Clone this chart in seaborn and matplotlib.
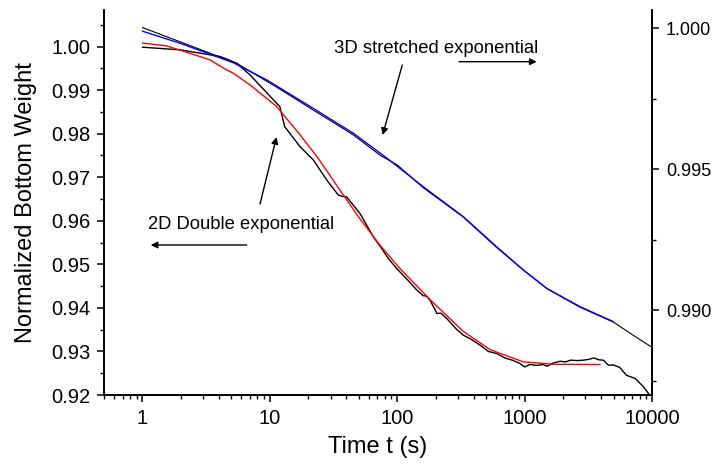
import numpy as np
import pandas as pd
import matplotlib
matplotlib.use("Agg")
import matplotlib.pyplot as plt
import matplotlib.ticker as mticker
import seaborn as sns

# ---------------- data ----------------
# 2D data (left axis), black
t_2d = [1, 2, 4.1, 5.5, 7, 10.7, 12, 13.1, 17.3, 22, 28, 34.5, 37, 40, 51, 65, 74, 85, 99,
        120, 143, 160, 170, 181, 195, 205, 220, 245, 290, 331, 380, 448, 520, 605, 700, 800,
        922, 1000, 1100, 1250, 1400, 1500, 1700, 1900, 2100, 2300, 2600, 2900, 3200, 3500,
        3800, 4160, 4550, 5000, 5600, 6300, 7400, 8600, 9400, 9800]
w_2d = [0.99986, 0.99924, 0.99770, 0.99618, 0.99349, 0.98775, 0.98621, 0.98161, 0.97701,
        0.97395, 0.96936, 0.96591, 0.96560, 0.96552, 0.96170, 0.95632, 0.95402, 0.95140,
        0.94906, 0.94650, 0.94407, 0.94280, 0.94270, 0.94177, 0.94000, 0.93871, 0.93880,
        0.93756, 0.93520, 0.93372, 0.93280, 0.93143, 0.93000, 0.92952, 0.92850, 0.92800,
        0.92722, 0.92644, 0.92700, 0.92680, 0.92700, 0.92660, 0.92740, 0.92775, 0.92760,
        0.92800, 0.92790, 0.92800, 0.92820, 0.92851, 0.92810, 0.92798, 0.92683, 0.92690,
        0.92630, 0.92453, 0.92377, 0.92184, 0.92032, 0.91950]

# 2D double exponential fit (left axis), red
t_2dfit = [1, 1.55, 2, 2.84, 3.4, 4.5, 5.18, 7, 8.5, 11.35, 17.24, 23.4, 28.0, 35.5, 51.2,
           73.7, 106.2, 182, 329, 536, 973, 1675, 3917]
w_2dfit = [1.0008, 1.00016, 0.99913, 0.99770, 0.99694, 0.99478, 0.99388, 0.99120, 0.98920,
           0.98621, 0.97977, 0.97478, 0.97150, 0.96706, 0.96039, 0.95431, 0.94890, 0.94184,
           0.93464, 0.93041, 0.92761, 0.92706, 0.92699]

# 3D data (right axis), black
t_3d = [1, 5.5, 11, 22, 45, 74, 100, 160, 330, 600, 980, 1500, 2700, 5000, 7000, 10000]
w_3d = [1.00002, 0.99875, 0.99794, 0.99709, 0.99622, 0.99548, 0.99515, 0.99434, 0.99330,
        0.99223, 0.99142, 0.99076, 0.99011, 0.98957, 0.98913, 0.98868]

# 3D stretched exponential fit (right axis), blue
t_3dfit = [1, 1.98, 5.18, 9.47, 22.0, 45.3, 82.9, 160.6, 331, 605, 979, 1493, 2728, 4980]
w_3dfit = [0.99989, 0.99946, 0.99877, 0.99816, 0.99715, 0.99627, 0.99539, 0.99437, 0.99331,
           0.99224, 0.99142, 0.99077, 0.99012, 0.98959]

x_ticks = [1, 10, 100, 1000, 10000]
x_ticklabels = ["1", "10", "100", "1000", "10000"]
yl_ticks = [0.92, 0.93, 0.94, 0.95, 0.96, 0.97, 0.98, 0.99, 1.00]
yr_ticks = [0.990, 0.995, 1.000]

# ---------------- style ----------------
sns.set_style("ticks")
plt.rcParams["font.family"] = ["Liberation Sans", "DejaVu Sans"]
plt.rcParams.update({"text.color": "black", "axes.labelcolor": "black",
                     "xtick.color": "black", "ytick.color": "black",
                     "axes.edgecolor": "black"})

fig = plt.figure(figsize=(7.15, 4.65), dpi=100)
ax = fig.add_axes([104 / 715, 1 - 395 / 465, 548 / 715, 385 / 465])
ax2 = ax.twinx()

lw = 1.0
sns.lineplot(x=t_2d, y=w_2d, ax=ax, color="black", lw=lw, estimator=None, sort=False)
sns.lineplot(x=t_2dfit, y=w_2dfit, ax=ax, color="#ff0000", lw=lw, estimator=None, sort=False)
sns.lineplot(x=t_3d, y=w_3d, ax=ax2, color="black", lw=0.8, estimator=None, sort=False)
sns.lineplot(x=t_3dfit, y=w_3dfit, ax=ax2, color="#0000ff", lw=lw, estimator=None, sort=False)

ax.set_xscale("log")
ax.set_xlim(0.5, 10000)
ax.set_ylim(0.92, 1.0084)
ax2.set_ylim(0.98699, 1.00064)

ax.set_xticks(x_ticks)
ax.set_xticklabels(x_ticklabels)
ax.xaxis.set_minor_locator(mticker.LogLocator(base=10, subs=[2, 3, 4, 5, 6, 7, 8, 9], numticks=20))
ax.xaxis.set_minor_formatter(mticker.NullFormatter())

ax.set_yticks(yl_ticks)
ax.yaxis.set_major_formatter(mticker.FormatStrFormatter("%.2f"))
ax.yaxis.set_minor_locator(mticker.MultipleLocator(0.005))
ax2.set_yticks(yr_ticks)
ax2.yaxis.set_major_formatter(mticker.FormatStrFormatter("%.3f"))
ax2.yaxis.set_minor_locator(mticker.MultipleLocator(0.0025))

for a in (ax, ax2):
    a.spines["top"].set_visible(False)
    for s in a.spines.values():
        s.set_linewidth(1.2)
        s.set_color("black")

ax.tick_params(axis="both", which="major", direction="out", length=5, width=1.1,
               labelsize=14.5, pad=5, colors="black")
ax.tick_params(axis="both", which="minor", direction="out", length=3, width=1.0, colors="black")
ax.tick_params(axis="x", which="major", pad=5)
ax.tick_params(axis="y", which="both", right=False)
ax2.tick_params(axis="y", which="major", direction="out", length=5, width=1.1,
                labelsize=13, pad=5, colors="black")
ax2.tick_params(axis="y", which="minor", direction="out", length=3, width=1.0, colors="black")

ax.set_xlabel("Time t (s)", fontsize=17, labelpad=6, color="black")
ax.set_ylabel("Normalized Bottom Weight", fontsize=17, labelpad=10, color="black")
ax2.set_ylabel("")

# ---------------- annotations ----------------
ap = dict(arrowstyle="-|>", color="black", lw=1.0, mutation_scale=10, shrinkA=0, shrinkB=0)
ax.text(0.6059, 0.8883, "3D stretched exponential", transform=ax.transAxes,
        ha="center", va="baseline", fontsize=13.3, color="black")
ax.annotate("", xy=(0.5084, 0.6753), xytext=(0.5443, 0.8571),
            xycoords="axes fraction", textcoords="axes fraction", arrowprops=ap)
ax.annotate("", xy=(0.7896, 0.8657), xytext=(0.6478, 0.8657),
            xycoords="axes fraction", textcoords="axes fraction", arrowprops=ap)
ax.text(0.2496, 0.431, "2D Double exponential", transform=ax.transAxes,
        ha="center", va="baseline", fontsize=13.2, color="black")
ax.annotate("", xy=(0.3148, 0.6701), xytext=(0.2847, 0.4961),
            xycoords="axes fraction", textcoords="axes fraction", arrowprops=ap)
ax.annotate("", xy=(0.0852, 0.3896), xytext=(0.2604, 0.3896),
            xycoords="axes fraction", textcoords="axes fraction", arrowprops=ap)

fig.savefig("out.png", dpi=100)
